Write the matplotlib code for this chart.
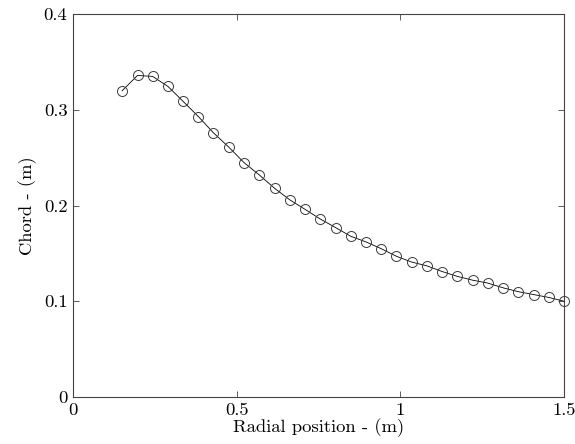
import matplotlib
matplotlib.use("Agg")
import matplotlib.pyplot as plt
import numpy as np

plt.rcParams['font.family'] = ['cmr10', 'DejaVu Serif']
plt.rcParams['axes.formatter.use_mathtext'] = True

radius = [0.150, 0.197, 0.243, 0.290, 0.336, 0.383, 0.429, 0.476, 0.522, 0.569,
          0.616, 0.662, 0.709, 0.755, 0.802, 0.848, 0.895, 0.941, 0.988, 1.034,
          1.081, 1.128, 1.174, 1.221, 1.267, 1.314, 1.360, 1.407, 1.453, 1.500]
chord = [0.320, 0.336, 0.335, 0.3245, 0.309, 0.293, 0.276, 0.261, 0.245, 0.232,
         0.218, 0.206, 0.196, 0.186, 0.177, 0.168, 0.162, 0.155, 0.147, 0.141,
         0.137, 0.131, 0.126, 0.122, 0.119, 0.114, 0.110, 0.107, 0.104, 0.100]

xticks = [0, 0.5, 1, 1.5]
xticklabels = ['0', '0.5', '1', '1.5']
yticks = [0, 0.1, 0.2, 0.3, 0.4]
yticklabels = ['0', '0.1', '0.2', '0.3', '0.4']

fig = plt.figure(figsize=(5.75, 4.44), dpi=100)
ax = fig.add_axes([0.127, 0.106, 0.854, 0.862])
ax.plot(radius, chord, '-', color='black', linewidth=0.6,
        marker='o', markersize=7.2, markerfacecolor='none',
        markeredgecolor='#3a3a3a', markeredgewidth=0.7, clip_on=False)
ax.set_xlim(0, 1.5)
ax.set_ylim(0, 0.4)
ax.set_xticks(xticks)
ax.set_xticklabels(xticklabels)
ax.set_yticks(yticks)
ax.set_yticklabels(yticklabels)
ax.tick_params(direction='in', length=4, width=0.6, colors='#444444',
               labelcolor='black', labelsize=13.4, top=True, right=True, pad=4)
for s in ax.spines.values():
    s.set_color('#444444')
    s.set_linewidth(0.8)
ax.set_xlabel('Radial position - (m)', fontsize=13.4, labelpad=0.5)
ax.set_ylabel('Chord - (m)', fontsize=13.4, labelpad=5)
fig.savefig('out.png', dpi=100)
